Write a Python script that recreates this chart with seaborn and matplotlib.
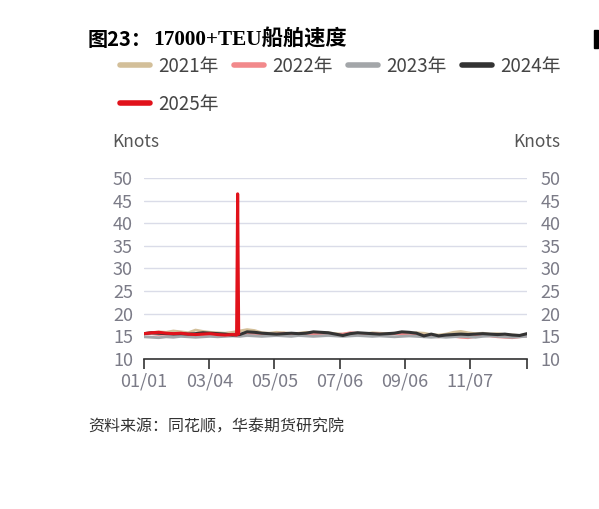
import numpy as np
import pandas as pd
import matplotlib
matplotlib.use("Agg")
import matplotlib.pyplot as plt
import seaborn as sns

# weekly samples, day offset from 01/01
week_days = list(range(0, 365, 7))  # 53 points

speed_2021 = [15.6, 15.8, 16.0, 15.9, 16.2, 16.0, 15.8, 16.4, 16.1, 15.9, 15.8, 15.7, 15.9,
              16.2, 16.5, 16.3, 15.8, 15.7, 15.9, 15.8, 15.6, 15.7, 15.9, 15.8, 15.7, 15.8,
              15.6, 15.5, 15.7, 15.6, 15.5, 15.8, 15.7, 15.6, 15.7, 15.5, 15.6, 15.8, 15.7,
              15.4, 15.3, 15.5, 15.9, 16.1, 15.8, 15.6, 15.7, 15.5, 15.6, 15.4, 15.3, 15.2, 15.4]
speed_2022 = [15.5, 15.6, 15.4, 15.5, 15.6, 15.4, 15.5, 15.3, 15.5, 15.6, 15.4, 15.3, 15.5,
              15.4, 15.6, 15.5, 15.6, 15.4, 15.5, 15.7, 15.5, 15.6, 15.5, 15.4, 15.6, 15.5,
              15.4, 15.5, 15.8, 15.7, 15.5, 15.6, 15.5, 15.4, 15.6, 15.5, 15.3, 15.4, 15.2,
              15.0, 14.9, 15.1, 15.0, 14.8, 14.7, 15.0, 15.2, 15.1, 14.9, 14.8, 14.7, 14.9, 15.1]
speed_2023 = [14.9, 14.8, 14.7, 14.9, 14.8, 15.0, 14.9, 14.8, 14.9, 15.0, 14.9, 15.0, 15.1,
              15.0, 15.2, 15.1, 15.0, 15.1, 15.2, 15.1, 15.0, 15.2, 15.1, 15.0, 15.1, 15.2,
              15.1, 15.0, 15.1, 15.2, 15.1, 15.0, 15.1, 15.0, 14.9, 15.0, 15.1, 15.0, 14.9,
              14.8, 14.9, 14.8, 14.9, 15.0, 14.9, 14.8, 15.0, 15.1, 15.0, 14.9, 14.8, 14.9, 15.0]
speed_2024 = [15.6, 15.8, 15.7, 15.6, 15.5, 15.6, 15.5, 15.6, 15.8, 15.7, 15.6, 15.5, 15.3,
              15.4, 16.0, 15.9, 15.7, 15.6, 15.5, 15.6, 15.7, 15.6, 15.7, 16.0, 15.9, 15.8,
              15.5, 15.2, 15.6, 15.8, 15.7, 15.6, 15.5, 15.6, 15.7, 16.0, 15.9, 15.7, 15.1,
              15.5, 15.1, 15.3, 15.4, 15.5, 15.4, 15.5, 15.6, 15.5, 15.4, 15.5, 15.3, 15.2, 15.6]

# 2025 runs to early April, with a one-day spike
days_2025 = [0, 7, 14, 21, 28, 35, 42, 49, 56, 63, 70, 77, 84, 88, 89, 90]
speed_2025 = [15.6, 15.8, 15.9, 15.7, 15.6, 15.7, 15.5, 15.4, 15.5, 15.6, 15.4, 15.3, 15.4,
              15.3, 46.5, 15.5]

tick_dates = ["01/01", "03/04", "05/05", "07/06", "09/06", "11/07"]
y_ticks = [10, 15, 20, 25, 30, 35, 40, 45, 50]

colors = {
    "2021年": "#D3BF99",
    "2022年": "#F2898B",
    "2023年": "#A3A6A9",
    "2024年": "#333333",
    "2025年": "#E1121B",
}
widths = {"2021年": 2.0, "2022年": 2.0, "2023年": 2.0, "2024年": 2.2, "2025年": 2.2}

frames = []
for name, vals in [("2021年", speed_2021), ("2022年", speed_2022),
                   ("2023年", speed_2023), ("2024年", speed_2024)]:
    frames.append(pd.DataFrame({"day": week_days, "speed": vals, "year": name}))
frames.append(pd.DataFrame({"day": days_2025, "speed": speed_2025, "year": "2025年"}))
df = pd.concat(frames, ignore_index=True)

sns.set_theme(style="white")
plt.rcParams['font.family'] = ['Noto Sans CJK SC', 'DejaVu Sans']

fig = plt.figure(figsize=(5.99, 5.09), dpi=100)
ax = fig.add_axes([0.2404, 0.2947, 0.6394, 0.3556])

for name in colors:
    sub = df[df["year"] == name]
    sns.lineplot(data=sub, x="day", y="speed", ax=ax, color=colors[name],
                 lw=widths[name], label=name, legend=False)

tick_pos = [(pd.Timestamp("2021/" + d.replace("/", "-")) - pd.Timestamp("2021-01-01")).days
            for d in tick_dates]
ax.set_xlim(0, 364)
ax.set_ylim(10, 50)
ax.set_xticks(tick_pos + [364])
ax.set_xticklabels(tick_dates + [""])
ax.set_yticks(y_ticks)
ax.grid(axis="y", color="#DADCE8", lw=1.0)
ax.grid(axis="x", visible=False)
ax.set_axisbelow(True)
for s in ["top", "left", "right"]:
    ax.spines[s].set_visible(False)
ax.spines["bottom"].set_color("#333333")
ax.spines["bottom"].set_linewidth(1.2)
ax.tick_params(axis="x", direction="out", length=7, width=1.2, color="#333333",
               labelsize=13, labelcolor="#7B7B87", pad=3, bottom=True)
ax.tick_params(axis="y", length=0, labelsize=13, labelcolor="#7B7B87", pad=8)
ax.set_xlabel("")
ax.set_ylabel("")

ax2 = ax.twinx()
ax2.set_ylim(10, 50)
ax2.set_yticks(y_ticks)
for s in ["top", "left", "right", "bottom"]:
    ax2.spines[s].set_visible(False)
ax2.tick_params(axis="y", length=0, labelsize=13, labelcolor="#7B7B87", pad=9.5)
ax2.grid(False)

fig.text(112 / 599, 1 - 142 / 509, "Knots", fontsize=12.5, color="#555555", va="center")
fig.text(560 / 599, 1 - 142 / 509, "Knots", fontsize=12.5, color="#555555", va="center", ha="right")

handles, labels = ax.get_legend_handles_labels()
# matplotlib fills legend columns first; reorder so rows read 2021..2024, then 2025
order = [0, 4, 1, 2, 3]
leg = fig.legend([handles[i] for i in order], [labels[i] for i in order], ncol=4,
                 loc="upper left", bbox_to_anchor=(120 / 599, 1 - 56 / 509), frameon=False,
                 fontsize=13.5, handlelength=1.6, handletextpad=0.45,
                 columnspacing=0.8, labelspacing=0.9, borderpad=0, borderaxespad=0)
for t in leg.get_texts():
    t.set_color("#444444")
for h in leg.get_lines():
    h.set_linewidth(4)
    h.set_solid_capstyle("round")

fig.text(88 / 599, 1 - 40 / 509, "图23：", fontsize=14.5, fontweight="bold",
         color="black", va="center")
fig.text(153 / 599, 1 - 40 / 509, "17000+TEU船舶速度", fontsize=15.3, fontweight="bold",
         family=["Liberation Serif", "Noto Sans CJK SC"], color="black", va="center")
fig.text(88 / 599, 1 - 427 / 509, "资料来源：同花顺，华泰期货研究院", fontsize=11.5,
         style="italic", color="#333333", va="center")
fig.patches.append(plt.Rectangle((594 / 599, 1 - 48 / 509), 4 / 599, 18 / 509,
                                 transform=fig.transFigure, color="black"))

fig.savefig("out.png", dpi=100)
